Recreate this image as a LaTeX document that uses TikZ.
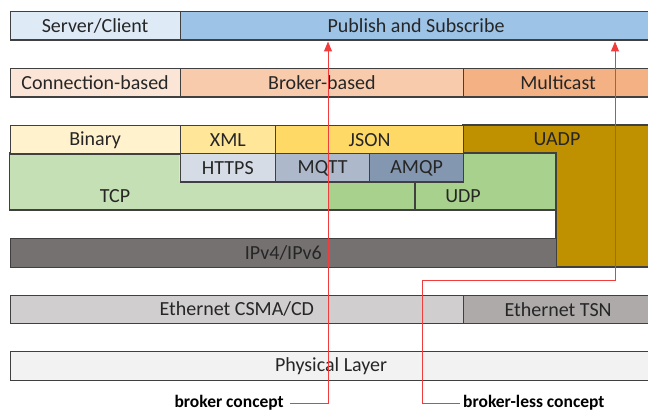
\documentclass[tikz,border=0pt]{standalone}
\usepackage{fontspec}
\setmainfont{Carlito}
\usetikzlibrary{arrows.meta}

\definecolor{edgegray}{HTML}{404040}
\definecolor{ink}{HTML}{262626}
\definecolor{conceptred}{HTML}{F03C3C}
\definecolor{srvcol}{HTML}{DEEBF7}
\definecolor{pubcol}{HTML}{9DC3E6}
\definecolor{conncol}{HTML}{FBE5D6}
\definecolor{brokcol}{HTML}{F8CBAD}
\definecolor{multcol}{HTML}{F4B183}
\definecolor{bincol}{HTML}{FFF2CC}
\definecolor{xmlcol}{HTML}{FFE699}
\definecolor{jsoncol}{HTML}{FFD966}
\definecolor{uadpcol}{HTML}{BF9000}
\definecolor{httpscol}{HTML}{D6DCE5}
\definecolor{mqttcol}{HTML}{ADB9CA}
\definecolor{amqpcol}{HTML}{8497B0}
\definecolor{tcpcol}{HTML}{C5E0B4}
\definecolor{udpcol}{HTML}{A9D18E}
\definecolor{ipcol}{HTML}{767171}
\definecolor{ethcol}{HTML}{D0CECE}
\definecolor{tsncol}{HTML}{AEAAAA}
\definecolor{phycol}{HTML}{F2F2F2}

\begin{document}
\begin{tikzpicture}[x=1pt,y=-1pt,
  layer/.style={draw=edgegray,line width=1.2pt,inner sep=0pt,anchor=north west,
    minimum height=28.5pt,text=ink,font=\fontsize{20}{24}\selectfont},
  plain/.style={inner sep=0pt,text=ink,font=\fontsize{20}{24}\selectfont},
  tag/.style={inner sep=0pt,text=black,font=\bfseries\fontsize{17.5}{20}\selectfont},
  concept/.style={draw=conceptred,line width=1pt,-{Triangle[width=8pt,length=10pt]}}]
  \useasboundingbox (0,0) rectangle (648,414);
  \clip (0,0) rectangle (648,414);

  % UADP reaches down to the IP row
  \filldraw[fill=uadpcol,draw=edgegray,line width=1.2pt]
    (463,125) -- (652,125) -- (652,267) -- (556,267) -- (556,153) -- (463,153) -- cycle;
  \node[plain] (uadp) at (557,139) {UADP};

  % TCP / UDP block
  \fill[tcpcol] (9.5,153) -- (179.5,153) -- (179.5,181) -- (328,181) -- (328,210) -- (9.5,210) -- cycle;
  \fill[udpcol] (328,181) -- (463,181) -- (463,153) -- (556,153) -- (556,210) -- (328,210) -- cycle;
  \draw[edgegray,line width=1.2pt] (9.5,153) rectangle (556,210);
  \draw[edgegray,line width=1.2pt] (415,181) -- (415,210);
  \node[plain] (tcp) at (115,196) {TCP};
  \node[plain] (udp) at (463,196) {UDP};

  % rows
  \node[layer,fill=srvcol,minimum width=170pt] (srvcli) at (9.5,11) {Server/Client};
  \node[layer,fill=pubcol,minimum width=472pt] (pubsub) at (179.5,11) {Publish and Subscribe};

  \node[layer,fill=conncol,minimum width=170pt] (conn) at (9.5,68) {Connection-based};
  \node[layer,fill=brokcol,minimum width=283.5pt] (brok) at (179.5,68) {Broker-based};
  \node[layer,fill=multcol,minimum width=189pt] (mult) at (463,68) {Multicast};

  \node[layer,fill=bincol,minimum width=170pt] (bin) at (9.5,125) {Binary};
  \node[layer,fill=xmlcol,minimum width=95.5pt] (xml) at (179.5,125) {XML};
  \node[layer,fill=jsoncol,minimum width=188pt] (json) at (275,125) {JSON};

  \node[layer,fill=httpscol,minimum width=95.5pt] (https) at (179.5,153) {HTTPS};
  \node[layer,fill=mqttcol,minimum width=94pt] (mqtt) at (275,153) {MQTT};
  \node[layer,fill=amqpcol,minimum width=94pt] (amqp) at (369,153) {AMQP};

  \node[layer,fill=ipcol,minimum width=546.5pt,minimum height=29pt] (ip) at (9.5,238) {IPv4/IPv6};

  \node[layer,fill=ethcol,minimum width=453.5pt] (eth) at (9.5,294.5) {Ethernet CSMA/CD};
  \node[layer,fill=tsncol,minimum width=189pt] (tsn) at (463,294.5) {Ethernet TSN};

  \node[layer,fill=phycol,minimum width=642pt] (phy) at (9.5,351) {Physical Layer};

  % concept markers
  \node[tag,anchor=east] (broker) at (284,403) {broker concept};
  \node[tag,anchor=west] (brokerless) at (463,403) {broker-less concept};
  \coordinate (tipA) at (328,41.5);
  \coordinate (tipB) at (615,41.5);
  \coordinate (bendB) at (422,280);
  \draw[concept,shorten <=6pt] (broker.east) -| (tipA);
  \draw[concept,shorten <=3pt] (brokerless.west) -| (bendB) -| (tipB);
\end{tikzpicture}
\end{document}
